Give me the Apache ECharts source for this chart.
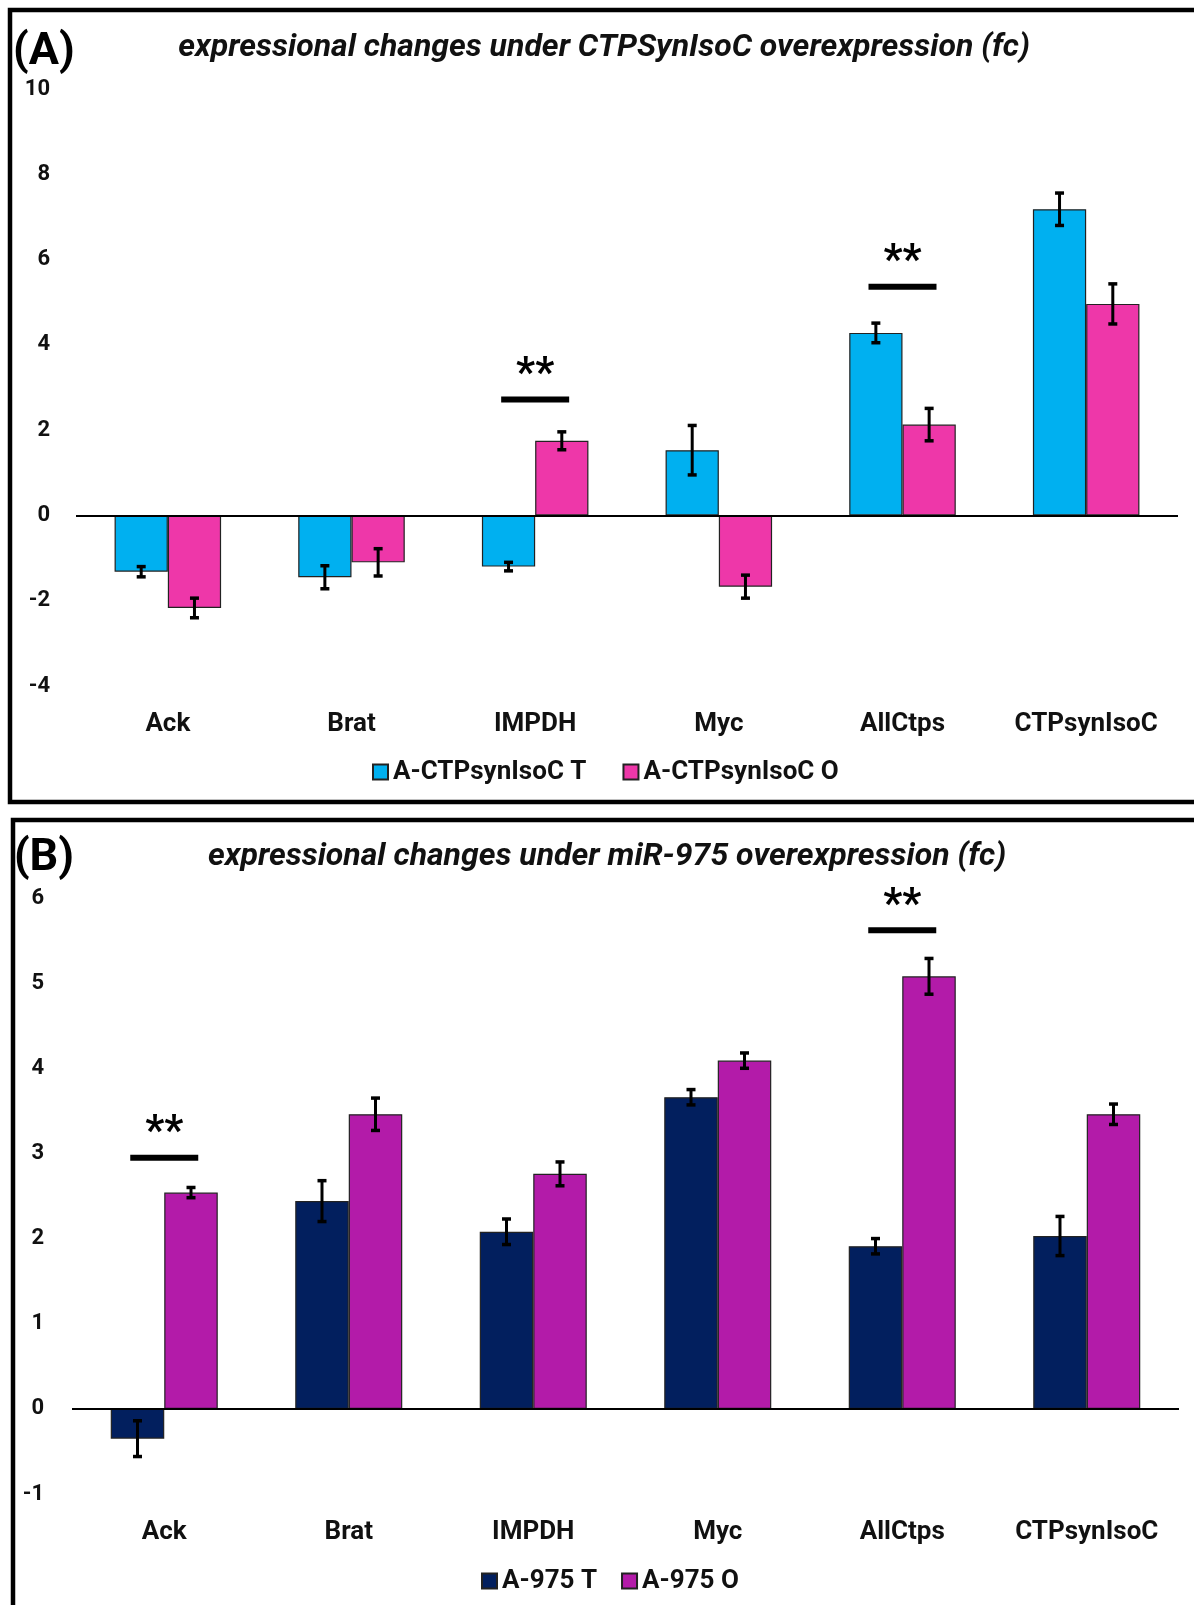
<!DOCTYPE html>
<html>
<head>
<meta charset="utf-8">
<script src="https://cdn.jsdelivr.net/npm/echarts@6/dist/echarts.min.js"></script>
<style>
  html, body { margin: 0; padding: 0; background: #fff; }
  #chart { width: 1194px; height: 1605px; }
</style>
</head>
<body>
<div id="chart"></div>
<script>
// ---------- DATA ----------
const categories = ['Ack', 'Brat', 'IMPDH', 'Myc', 'AllCtps', 'CTPsynIsoC'];

// Panel A: CTPsynIsoC overexpression
const seriesNamesA = ['A-CTPsynIsoC T', 'A-CTPsynIsoC O'];
const valuesA_T = [-1.32, -1.45, -1.20, 1.53, 4.28, 7.18];
const errorsA_T = [0.12, 0.27, 0.10, 0.58, 0.23, 0.38];
const valuesA_O = [-2.17, -1.10, 1.75, -1.67, 2.13, 4.96];
const errorsA_O = [0.23, 0.32, 0.21, 0.27, 0.38, 0.47];
const sigA = [[2, 2.72], [4, 5.36]];          // [category index, bracket height]
const yTicksA = { min: -4, max: 10, interval: 2 };

// Panel B: miR-975 overexpression
const seriesNamesB = ['A-975 T', 'A-975 O'];
const valuesB_T = [-0.35, 2.44, 2.08, 3.66, 1.91, 2.03];
const errorsB_T = [0.21, 0.24, 0.15, 0.09, 0.09, 0.23];
const valuesB_O = [2.54, 3.46, 2.76, 4.09, 5.08, 3.46];
const errorsB_O = [0.06, 0.19, 0.14, 0.09, 0.21, 0.12];
const sigB = [[0, 2.95], [4, 5.62]];
const yTicksB = { min: -1, max: 6, interval: 1 };

const titleA = 'expressional changes under CTPSynIsoC overexpression (fc)';
const titleB = 'expressional changes under miR-975 overexpression (fc)';

// ---------- STYLE ----------
const FONT = 'Roboto, "Noto Sans", sans-serif';
const colA = ['#00B0F0', '#EE37A9'];
const colB = ['#021F5E', '#B31BA9'];
const CAT_GAP = 0.42; // fraction of band left empty

function errRender(side) {
  return function (params, api) {
    const x = api.value(0), v = api.value(1), e = api.value(2);
    const band = api.size([1, 0])[0];
    const off = side * band * (1 - CAT_GAP) / 4;
    const top = api.coord([x, v + e]);
    const bot = api.coord([x, v - e]);
    const cx = top[0] + off;
    const s = { stroke: '#000', lineWidth: 3 };
    return {
      type: 'group',
      children: [
        { type: 'line', shape: { x1: cx, y1: top[1], x2: cx, y2: bot[1] }, style: s },
        { type: 'line', shape: { x1: cx - 4.5, y1: top[1], x2: cx + 4.5, y2: top[1] }, style: { stroke: '#000', lineWidth: 3.5 } },
        { type: 'line', shape: { x1: cx - 4.5, y1: bot[1], x2: cx + 4.5, y2: bot[1] }, style: { stroke: '#000', lineWidth: 3.5 } }
      ]
    };
  };
}

function sigRender(params, api) {
  const p = api.coord([api.value(0), api.value(1)]);
  return {
    type: 'group',
    children: [
      { type: 'rect', shape: { x: p[0] - 34, y: p[1] - 3, width: 68, height: 6 }, style: { fill: '#000' } },
      { type: 'text', x: p[0], y: p[1] - 24,
        style: { text: '**', fill: '#000', font: 'bold 42px ' + FONT, align: 'center', verticalAlign: 'middle' } }
    ]
  };
}

function barSeries(name, data, color, xi, withZero) {
  const s = {
    name: name, type: 'bar', xAxisIndex: xi, yAxisIndex: xi, data: data,
    barGap: '0%', barCategoryGap: (CAT_GAP * 100) + '%',
    itemStyle: { color: color, borderColor: '#222', borderWidth: 1.2 },
    emphasis: { disabled: true }
  };
  if (withZero) {
    s.markLine = {
      silent: true, symbol: 'none', label: { show: false },
      lineStyle: { color: '#000', width: 2, type: 'solid' },
      data: [{ yAxis: 0 }]
    };
  }
  return s;
}

function errSeries(vals, errs, side, xi) {
  return {
    type: 'custom', xAxisIndex: xi, yAxisIndex: xi, z: 5, silent: true,
    renderItem: errRender(side),
    data: vals.map((v, i) => [i, v, errs[i]])
  };
}
function sigSeries(sig, xi) {
  return { type: 'custom', xAxisIndex: xi, yAxisIndex: xi, z: 6, silent: true, renderItem: sigRender, data: sig };
}

const catLabel = { fontFamily: FONT, fontSize: 26, fontWeight: 'bold', color: '#111', margin: 25, interval: 0 };
const valLabelA = { fontFamily: FONT, fontSize: 22, fontWeight: 'bold', color: '#111', margin: 26 };
const valLabelB = { fontFamily: FONT, fontSize: 22, fontWeight: 'bold', color: '#111', margin: 28 };
const legText = { fontFamily: FONT, fontSize: 26, fontWeight: 'bold', color: '#111' };

const option = {
  animation: false,
  backgroundColor: '#fff',
  graphic: [
    { type: 'rect', shape: { x: 10, y: 10, width: 1200, height: 792 }, style: { fill: 'none', stroke: '#000', lineWidth: 4.5 }, silent: true },
    { type: 'rect', shape: { x: 13, y: 820, width: 1200, height: 900 }, style: { fill: 'none', stroke: '#000', lineWidth: 4.5 }, silent: true }
  ],
  title: [
    { text: '(A)', left: 39, top: 48, textAlign: 'center', textVerticalAlign: 'middle',
      textStyle: { fontFamily: FONT, fontSize: 45, fontWeight: 'bold', color: '#000' } },
    { text: titleA, left: 599, top: 43, textAlign: 'center', textVerticalAlign: 'middle',
      textStyle: { fontFamily: FONT, fontSize: 32, fontStyle: 'italic', fontWeight: 'bold', color: '#111' } },
    { text: '(B)', left: 39, top: 854, textAlign: 'center', textVerticalAlign: 'middle',
      textStyle: { fontFamily: FONT, fontSize: 45, fontWeight: 'bold', color: '#000' } },
    { text: titleB, left: 602, top: 852, textAlign: 'center', textVerticalAlign: 'middle',
      textStyle: { fontFamily: FONT, fontSize: 32, fontStyle: 'italic', fontWeight: 'bold', color: '#111' } }
  ],
  legend: [
    { data: seriesNamesA, left: 367, top: 754, itemWidth: 15, itemHeight: 15, itemGap: 36, icon: 'rect',
      selectedMode: false, textStyle: legText },
    { data: seriesNamesB, left: 476, top: 1563, itemWidth: 15, itemHeight: 15, itemGap: 24, icon: 'rect',
      selectedMode: false, textStyle: legText }
  ],
  grid: [
    { left: 76, width: 1102, top: 89, height: 597 },
    { left: 72, width: 1107, top: 898, height: 596 }
  ],
  xAxis: [
    { type: 'category', gridIndex: 0, data: categories, position: 'bottom',
      axisLine: { show: false, onZero: false }, axisTick: { show: false }, axisLabel: catLabel },
    { type: 'category', gridIndex: 1, data: categories, position: 'bottom',
      axisLine: { show: false, onZero: false }, axisTick: { show: false }, axisLabel: catLabel }
  ],
  yAxis: [
    { type: 'value', gridIndex: 0, min: yTicksA.min, max: yTicksA.max, interval: yTicksA.interval,
      axisLine: { show: false }, axisTick: { show: false }, splitLine: { show: false }, axisLabel: valLabelA },
    { type: 'value', gridIndex: 1, min: yTicksB.min, max: yTicksB.max, interval: yTicksB.interval,
      axisLine: { show: false }, axisTick: { show: false }, splitLine: { show: false }, axisLabel: valLabelB }
  ],
  series: [
    barSeries(seriesNamesA[0], valuesA_T, colA[0], 0, true),
    barSeries(seriesNamesA[1], valuesA_O, colA[1], 0, false),
    errSeries(valuesA_T, errorsA_T, -1, 0),
    errSeries(valuesA_O, errorsA_O, 1, 0),
    sigSeries(sigA, 0),
    barSeries(seriesNamesB[0], valuesB_T, colB[0], 1, true),
    barSeries(seriesNamesB[1], valuesB_O, colB[1], 1, false),
    errSeries(valuesB_T, errorsB_T, -1, 1),
    errSeries(valuesB_O, errorsB_O, 1, 1),
    sigSeries(sigB, 1)
  ]
};

const chart = echarts.init(document.getElementById('chart'), null, { renderer: 'canvas' });
chart.setOption(option);
</script>
</body>
</html>
